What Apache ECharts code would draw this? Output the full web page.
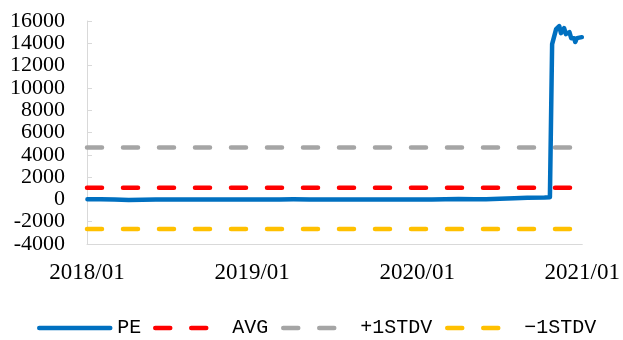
<!DOCTYPE html>
<html>
<head>
<meta charset="utf-8">
<script src="https://cdn.jsdelivr.net/npm/echarts@6/dist/echarts.min.js"></script>
<style>
  html, body { margin: 0; padding: 0; background: #fff; }
  #chart { width: 623px; height: 340px; }
</style>
</head>
<body>
<div id="chart"></div>
<script>
// PE series: observation dates and values
const dates = [
  '2018/01/02', '2018/02/01', '2018/03/01', '2018/04/02', '2018/05/02', '2018/06/01',
  '2018/07/02', '2018/08/01', '2018/09/03', '2018/10/08', '2018/11/01', '2018/12/03',
  '2019/01/02', '2019/02/01', '2019/03/01', '2019/04/01', '2019/05/06', '2019/06/03',
  '2019/07/01', '2019/08/01', '2019/09/02', '2019/10/08', '2019/11/01', '2019/12/02',
  '2020/01/02', '2020/02/03', '2020/03/02', '2020/04/01', '2020/05/06', '2020/06/01',
  '2020/07/01', '2020/08/03', '2020/09/01', '2020/10/09', '2020/10/21', '2020/10/26',
  '2020/11/04', '2020/11/11', '2020/11/15', '2020/11/22', '2020/11/26', '2020/12/03',
  '2020/12/07', '2020/12/14', '2020/12/16', '2020/12/20', '2020/12/31'
];
const pe = [
  20, 10, 0, -60, -40, -20,
  -10, 0, 0, -10, 0, 0,
  0, 0, 0, 10, 0, 0,
  0, 0, 0, 0, 0, 0,
  0, 0, 10, 40, 20, 20,
  60, 100, 150, 180, 200, 13930,
  15270, 15540, 14910, 15360, 14820, 15000,
  14460, 14460, 14110, 14460, 14550
];

// Reference lines
const avg = 1040;
const plusStdv = 4660;
const minusStdv = -2650;

// Axis labels
const xTickLabels = ['2018/01', '2019/01', '2020/01', '2021/01'];
const seriesNames = ['PE', 'AVG', '+1STDV', '\u22121STDV'];

// Months elapsed since 2018/01 for a 'YYYY/MM/DD' date
function monthsFromStart(s) {
  const [y, m, d] = s.split('/').map(Number);
  return (y - 2018) * 12 + (m - 1) + (d - 1) / 31;
}

const peData = dates.map((d, i) => [monthsFromStart(d), pe[i]]);
const xMax = (xTickLabels.length - 1) * 12;
const flat = v => [[0, v], [xMax, v]];

const chart = echarts.init(document.getElementById('chart'), null, { renderer: 'canvas' });

const dash = { type: [15, 21], cap: 'round', width: 4.5 };
const legendText = { fontFamily: 'Liberation Mono', fontSize: 20, color: '#000' };

function legendFor(name, left, width, padLeft) {
  return {
    data: [name], left: left, top: 318, padding: 0,
    itemWidth: width, itemHeight: 14,
    itemStyle: { opacity: 0 },
    lineStyle: { width: 4.5, cap: 'round' },
    textStyle: Object.assign({ padding: [0, 0, 0, padLeft] }, legendText)
  };
}

chart.setOption({
  animation: false,
  backgroundColor: '#fff',
  grid: { left: 87, right: 38, top: 21, bottom: 96, containLabel: false },
  xAxis: {
    type: 'value', min: 0, max: xMax, interval: 12,
    axisLine: { show: true, onZero: false, lineStyle: { color: '#d9d9d9', width: 1 } },
    axisTick: { show: false },
    splitLine: { show: false },
    axisLabel: {
      margin: 17, fontFamily: 'Liberation Serif', fontSize: 23, color: '#000',
      formatter: v => xTickLabels[Math.round(v / 12)] || ''
    }
  },
  yAxis: {
    type: 'value', min: -4000, max: 16000, interval: 2000,
    axisLine: { show: true, onZero: false, lineStyle: { color: '#d9d9d9', width: 1 } },
    axisTick: { show: true, inside: true, length: 5, lineStyle: { color: '#d9d9d9' } },
    splitLine: { show: false },
    axisLabel: {
      margin: 22, fontFamily: 'Liberation Serif', fontSize: 22, color: '#000',
      formatter: v => String(v)
    }
  },
  legend: [
    legendFor(seriesNames[0], 37, 71, 2),
    legendFor(seriesNames[1], 153, 55, 17),
    legendFor(seriesNames[2], 281, 55, 17),
    legendFor(seriesNames[3], 445, 55, 17)
  ],
  series: [
    { name: seriesNames[1], type: 'line', data: flat(avg), symbol: 'none', silent: true,
      color: '#ff0000', lineStyle: Object.assign({ color: '#ff0000' }, dash) },
    { name: seriesNames[2], type: 'line', data: flat(plusStdv), symbol: 'none', silent: true,
      color: '#a5a5a5', lineStyle: Object.assign({ color: '#a5a5a5' }, dash) },
    { name: seriesNames[3], type: 'line', data: flat(minusStdv), symbol: 'none', silent: true,
      color: '#ffc000', lineStyle: Object.assign({ color: '#ffc000' }, dash) },
    { name: seriesNames[0], type: 'line', data: peData, symbol: 'none', z: 5,
      color: '#0070c0', lineStyle: { color: '#0070c0', width: 4.5, cap: 'round', join: 'round' } }
  ]
});
</script>
</body>
</html>
